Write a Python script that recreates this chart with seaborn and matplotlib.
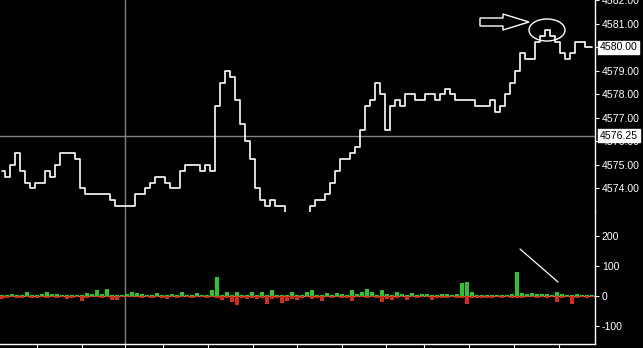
import matplotlib
matplotlib.use("Agg")
import numpy as np
import pandas as pd
import seaborn as sns
import matplotlib.pyplot as plt
from matplotlib.patches import Ellipse, Polygon
from matplotlib.lines import Line2D
from matplotlib.ticker import FuncFormatter

# ---------------- data ----------------
price = [
    4574.75, 4574.50, 4575.00, 4575.50, 4574.75, 4574.25, 4574.00, 4574.25, 4574.25, 4574.75,
    4574.50, 4575.00, 4575.50, 4575.50, 4575.50, 4575.25, 4574.00, 4573.75, 4573.75, 4573.75,
    4573.75, 4573.75, 4573.50, 4573.25, 4573.25, 4573.25, 4573.25, 4573.75, 4573.75, 4574.00,
    4574.25, 4574.50, 4574.50, 4574.25, 4574.00, 4574.00, 4574.75, 4575.00, 4575.00, 4575.00,
    4574.75, 4575.00, 4574.75, 4577.50, 4578.50, 4579.00, 4578.75, 4577.75, 4576.75, 4576.00,
    4575.25, 4574.00, 4573.50, 4573.25, 4573.50, 4573.25, 4573.25, 4572.75, 4572.50, 4572.50,
    4572.50, 4572.75, 4573.25, 4573.50, 4573.50, 4573.75, 4574.25, 4574.75, 4575.25, 4575.25,
    4575.50, 4575.75, 4576.50, 4577.50, 4577.75, 4578.50, 4578.00, 4576.50, 4577.50, 4577.75,
    4577.50, 4578.00, 4578.00, 4577.75, 4577.75, 4578.00, 4578.00, 4577.75, 4578.00, 4578.25,
    4578.00, 4577.75, 4577.75, 4577.75, 4577.75, 4577.50, 4577.50, 4577.50, 4577.75, 4577.25,
    4577.50, 4578.00, 4578.50, 4579.00, 4579.75, 4579.50, 4579.50, 4580.25, 4580.50, 4580.75,
    4580.50, 4580.25, 4579.75, 4579.50, 4579.75, 4580.25, 4580.25, 4580.00, 4580.00,
]
buy_volume = [
    3, 5, 6, 4, 5, 13, 4, 3, 8, 12, 6, 7, 5, 4, 4, 3, 5, 10, 6, 20,
    6, 22, 4, 3, 5, 6, 12, 10, 6, 5, 4, 10, 3, 5, 7, 4, 15, 5, 4, 10,
    4, 5, 20, 63, 5, 15, 4, 12, 5, 4, 12, 4, 14, 5, 20, 4, 5, 4, 12, 5,
    4, 15, 20, 5, 3, 10, 4, 10, 6, 4, 20, 8, 12, 25, 12, 5, 20, 8, 4, 12,
    6, 4, 10, 4, 8, 6, 5, 4, 6, 8, 4, 6, 45, 48, 15, 4, 5, 4, 3, 5,
    4, 5, 8, 80, 10, 6, 10, 6, 8, 6, 5, 12, 8, 4, 5, 6, 4, 5, 4,
]
sell_volume = [
    10, 5, 4, 6, 8, 4, 5, 6, 3, 5, 4, 6, 4, 10, 6, 4, 15, 6, 4, 4,
    5, 3, 12, 14, 3, 3, 4, 3, 5, 4, 8, 3, 6, 10, 4, 5, 4, 3, 5, 4,
    3, 5, 4, 5, 12, 6, 20, 30, 8, 10, 6, 10, 8, 25, 10, 8, 22, 15, 10, 12,
    6, 3, 10, 5, 15, 4, 5, 3, 5, 6, 15, 4, 4, 6, 4, 5, 20, 10, 12, 5,
    4, 12, 4, 5, 3, 4, 12, 6, 5, 5, 4, 8, 6, 25, 5, 6, 5, 5, 6, 4,
    5, 3, 5, 5, 5, 4, 3, 5, 4, 5, 4, 20, 5, 4, 25, 5, 4, 5, 3,
]
price_ticks = [4574, 4575, 4576, 4577, 4578, 4579, 4580, 4581, 4582]
volume_ticks = [-100, 0, 100, 200]
last_price = 4580.00
cursor_price = 4576.25

bars = pd.DataFrame({
    "bar": np.arange(len(price)),
    "price": price,
    "buy": buy_volume,
    "sell": -np.asarray(sell_volume),
})

# ---------------- style ----------------
sns.set_theme(style="dark")
plt.rcParams["font.family"] = ["Liberation Sans", "DejaVu Sans"]
plt.rcParams["axes.unicode_minus"] = False

W, H = 643, 348
fig = plt.figure(figsize=(W / 100, H / 100), dpi=100, facecolor="black")
ax1 = fig.add_axes([0, (H - 212) / H, 595 / W, 212 / H])
ax2 = fig.add_axes([0, 4 / H, 595 / W, 132 / H])

# price panel
sns.lineplot(data=bars, x="bar", y="price", ax=ax1, color="white", lw=1.2,
             drawstyle="steps-mid", estimator=None)
# volume panel
sns.barplot(data=bars, x="bar", y="buy", ax=ax2, color="#2cc52c", saturation=1,
            width=0.8, errorbar=None, linewidth=0)
sns.barplot(data=bars, x="bar", y="sell", ax=ax2, color="#dd2a14", saturation=1,
            width=0.8, errorbar=None, linewidth=0)

for ax in (ax1, ax2):
    ax.set_facecolor("black")
    for s in ax.spines.values():
        s.set_visible(False)
    ax.spines["right"].set_visible(True)
    ax.spines["right"].set_color("white")
    ax.spines["right"].set_linewidth(1.0)
    ax.yaxis.tick_right()
    ax.tick_params(axis="y", colors="white", labelcolor="white", length=3,
                   width=0.8, pad=2, labelsize=7.6, direction="out")
    ax.grid(False)
    ax.set_xlabel("")
    ax.set_ylabel("")

ax1.set_ylim(4573.0, 4582.02)
ax1.set_yticks(price_ticks)
# the last-price box replaces its own tick label
ax1.yaxis.set_major_formatter(FuncFormatter(lambda v, p: "" if abs(v - last_price) < 1e-6 else f"{v:.2f}"))
ax1.set_xticks([])
ax1.axhline(cursor_price, color="#808080", lw=1.0, zorder=0)

ax2.axhline(0, color="#8fae3a", lw=0.8, zorder=0)
ax2.set_ylim(-160, 280)
ax2.set_yticks(volume_ticks)
ax2.spines["bottom"].set_visible(True)
ax2.spines["bottom"].set_color("white")
ax2.spines["bottom"].set_linewidth(1.0)

n = len(price)
for ax in (ax1, ax2):
    ax.set_xlim(-0.4, n - 0.4)

xtick_px = [37, 82, 125, 163, 208, 253, 297, 342, 386, 424, 469, 514, 559]
ax2.set_xticks([(p - 2) / 5 for p in xtick_px])
ax2.set_xticklabels([""] * len(xtick_px))
ax2.tick_params(axis="x", colors="white", length=4, width=0.8, direction="out", bottom=True)

# crosshair vertical
cross_x = (125 - 2) / 5
for ax in (ax1, ax2):
    ax.axvline(cross_x, color="#808080", lw=1.0, zorder=0)

# highlighted price boxes
ytr = ax1.get_yaxis_transform()
for val in (last_price, cursor_price):
    ax1.text(1 + 5 / 595, val, f"{val:.2f}", transform=ytr, ha="left", va="center",
             color="black", fontsize=7.6, zorder=10, clip_on=False,
             bbox=dict(facecolor="white", edgecolor="white", boxstyle="square,pad=0.15"))

# annotations drawn by hand in the reference
def fp(x, y):
    return (x / W, 1 - y / H)

arrow_pts = [fp(480, 18), fp(503, 18), fp(503, 14), fp(529, 22), fp(503, 30), fp(503, 26), fp(480, 26)]
fig.patches.append(Polygon(arrow_pts, closed=True, fill=False, edgecolor="white", lw=1.0,
                           transform=fig.transFigure))
fig.patches.append(Ellipse(fp(547, 30), 36 / W, 22 / H, fill=False, edgecolor="white",
                           lw=1.0, transform=fig.transFigure))
(x0, y0), (x1, y1) = fp(520, 249), fp(558, 282)
fig.lines.append(Line2D([x0, x1], [y0, y1], color="white", lw=0.9, transform=fig.transFigure))

fig.savefig("out.png", dpi=100, facecolor="black")
